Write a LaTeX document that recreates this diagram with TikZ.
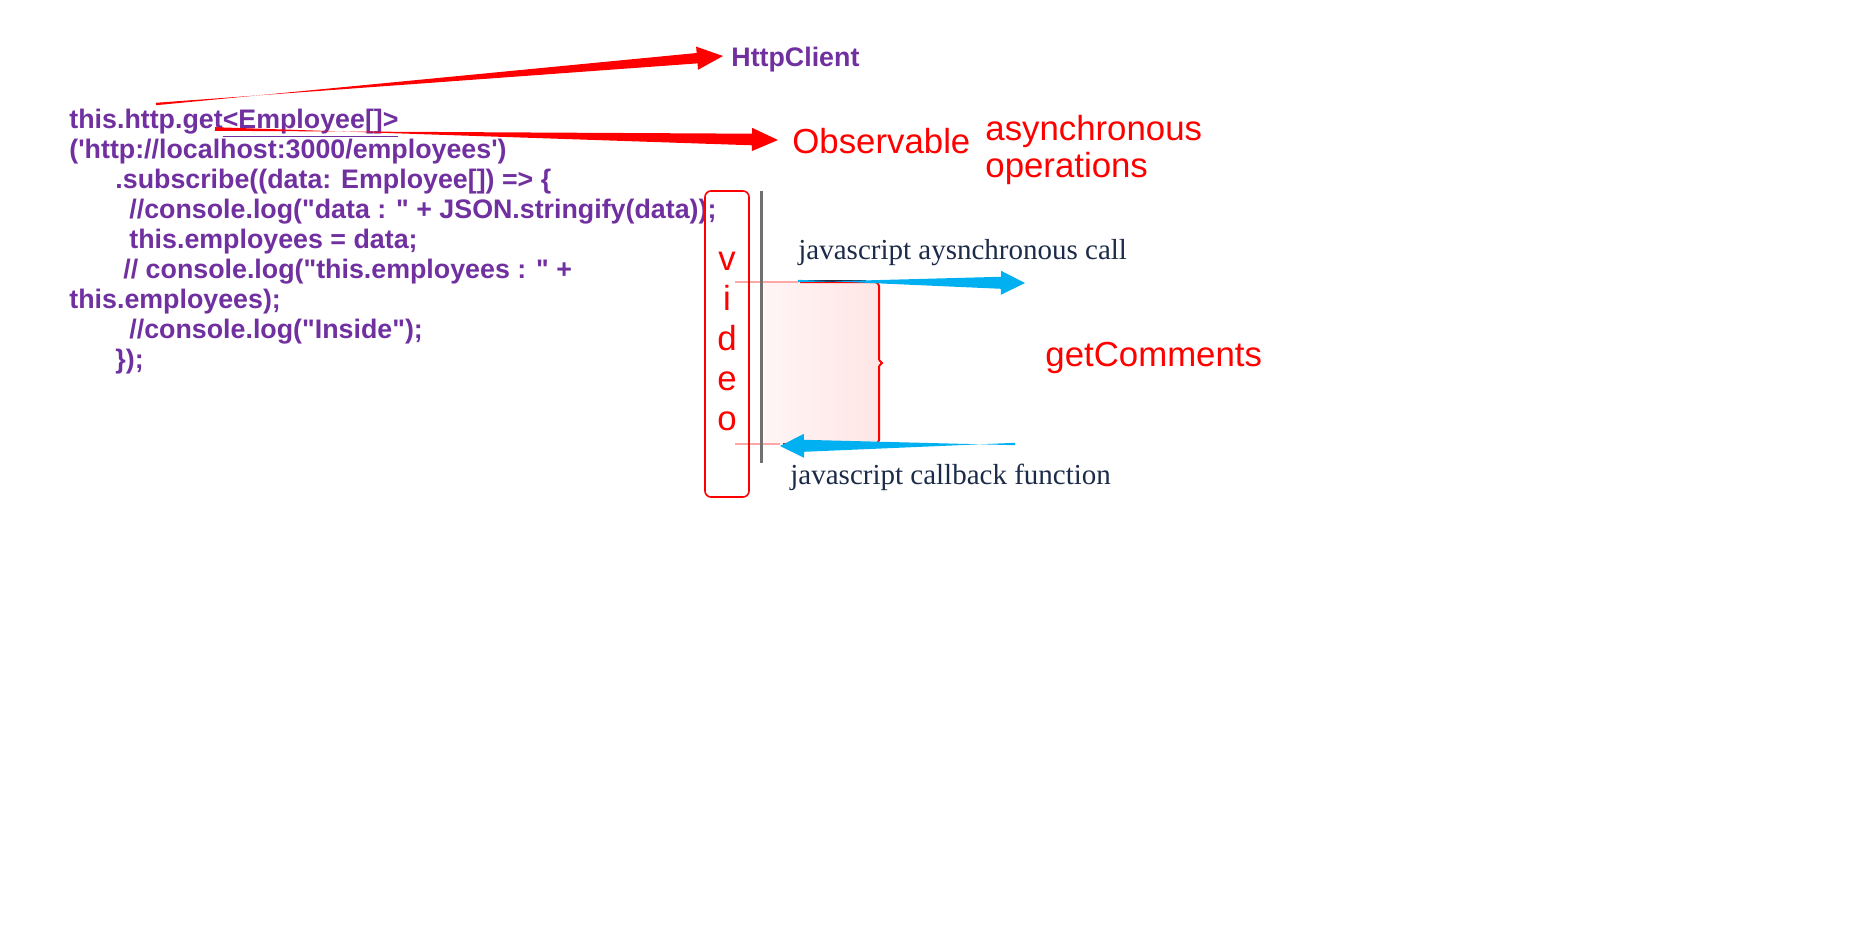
\documentclass[tikz,border=0pt]{standalone}
\usepackage{fontspec}
\usepackage{tikz}
\usetikzlibrary{calc}
\newfontfamily\codefont{Liberation Sans}[Ligatures=TeXOff]
\newfontfamily\labelfont{Liberation Sans}
\newfontfamily\jsfont{Liberation Serif}
\definecolor{codepurple}{HTML}{7030A0}
\definecolor{callblue}{HTML}{00B0F0}
\definecolor{notenavy}{HTML}{1C2B48}
\definecolor{railgray}{HTML}{707070}
\def\taperarrow[#1](#2)(#3)(#4:#5:#6:#7){\coordinate (hb) at ($(#3)!#4!(#2)$);
	\fill[#1] ($(#2)!#5!90:(#3)$) -- ($(hb)!#6!-90:(#3)$) -- ($(hb)!#7!-90:(#3)$) -- (#3) -- ($(hb)!#7!90:(#3)$) -- ($(hb)!#6!90:(#3)$) -- ($(#2)!#5!-90:(#3)$) -- cycle;}
\tikzset{
	code/.style={font=\codefont\bfseries\fontsize{13.4}{15}\selectfont, text=codepurple, inner sep=0pt, align=left},
	rednote/.style={font=\labelfont\fontsize{17.4}{18.5}\selectfont, text=red, inner sep=0pt},
	jsnote/.style={font=\jsfont\fontsize{14.5}{17}\selectfont, text=notenavy, inner sep=0pt},
}

\begin{document}
\begin{tikzpicture}[x=0.5pt, y=-0.5pt]
			%%%%% START %%%%%
			\useasboundingbox (0, 0) rectangle (1873, 931);
			
			\node[code, anchor=base west] (code) at (69, 368) {this.http.get\underline{<Employee[]>}\\
				('http://localhost:3000/employees')\\
				\hspace*{23pt}.subscribe((data: Employee[]) => \{\\
				\hspace*{30pt}//console.log("data : " + JSON.stringify(data));\\
				\hspace*{30pt}this.employees = data;\\
				\hspace*{27pt}// console.log("this.employees : " +\\
				this.employees);\\
				\hspace*{30pt}//console.log("Inside");\\
				\hspace*{23pt}\});};
			
			\node[code, anchor=west] (http) at (731, 60) {HttpClient};
			\node[rednote, anchor=west] (obs) at (792, 141) {Observable};
			\node[rednote, anchor=west, align=left] (async) at (985, 150) {asynchronous\\operations};
			\node[rednote, anchor=west] (comments) at (1045, 358) {getComments};
			
			\coordinate (thisend) at (156, 104);
			\coordinate (getend) at (215, 129);
			\coordinate (httptip) at ($(http.west)+(-8, -4)$);
			\coordinate (obstip) at ($(obs.west)+(-14, -1)$);
			
			\taperarrow[red](thisend)(httptip)(13pt:0.6pt:2.6pt:5.8pt);
			\taperarrow[red](getend)(obstip)(13pt:0.9pt:2.9pt:5.8pt);
			
			% timeline
			\shade[left color=red!4, right color=red!10] (764, 282) rectangle (879, 444);
			\draw[red!35, line width=0.6pt] (735, 282) -- (798, 282);
			\draw[red!35, line width=0.6pt] (735, 444) -- (780, 444);
			\draw[railgray, line width=1.5pt] (761, 191) -- (761, 463);
			
			\draw[red, line width=0.8pt, rounded corners=3pt] (705, 191) rectangle (749, 497);
			\node[rednote, font=\labelfont\fontsize{17.4}{20}\selectfont, align=center] (video) at (727, 341) {v\\i\\d\\e\\o};
			
			\draw[red, line width=1pt, rounded corners=2pt] (800, 282) -- (879, 282) -- (879, 360);
			\draw[red, line width=1pt] (879, 360) -- (882, 363) -- (879, 366);
			\draw[red, line width=1pt, rounded corners=2pt] (879, 366) -- (879, 444) -- (783, 444);
			
			\coordinate (callstart) at (798, 281);
			\coordinate (calltip) at (1025, 283);
			\coordinate (backstart) at (1015, 444);
			\coordinate (backtip) at (780, 446);
			
			\draw[notenavy, line width=1pt] (callstart) -- ++(68, 0);
			\taperarrow[callblue](callstart)(calltip)(12pt:0.6pt:3pt:6pt);
			\taperarrow[callblue](backstart)(backtip)(12pt:0.6pt:3pt:6pt);
			
			\node[jsnote, anchor=west] (calltext) at (798, 253) {javascript aysnchronous call};
			\node[jsnote, anchor=west] (backtext) at (790, 477) {javascript callback function};
			
			%%%%% END %%%%%
\end{tikzpicture}
\end{document}
